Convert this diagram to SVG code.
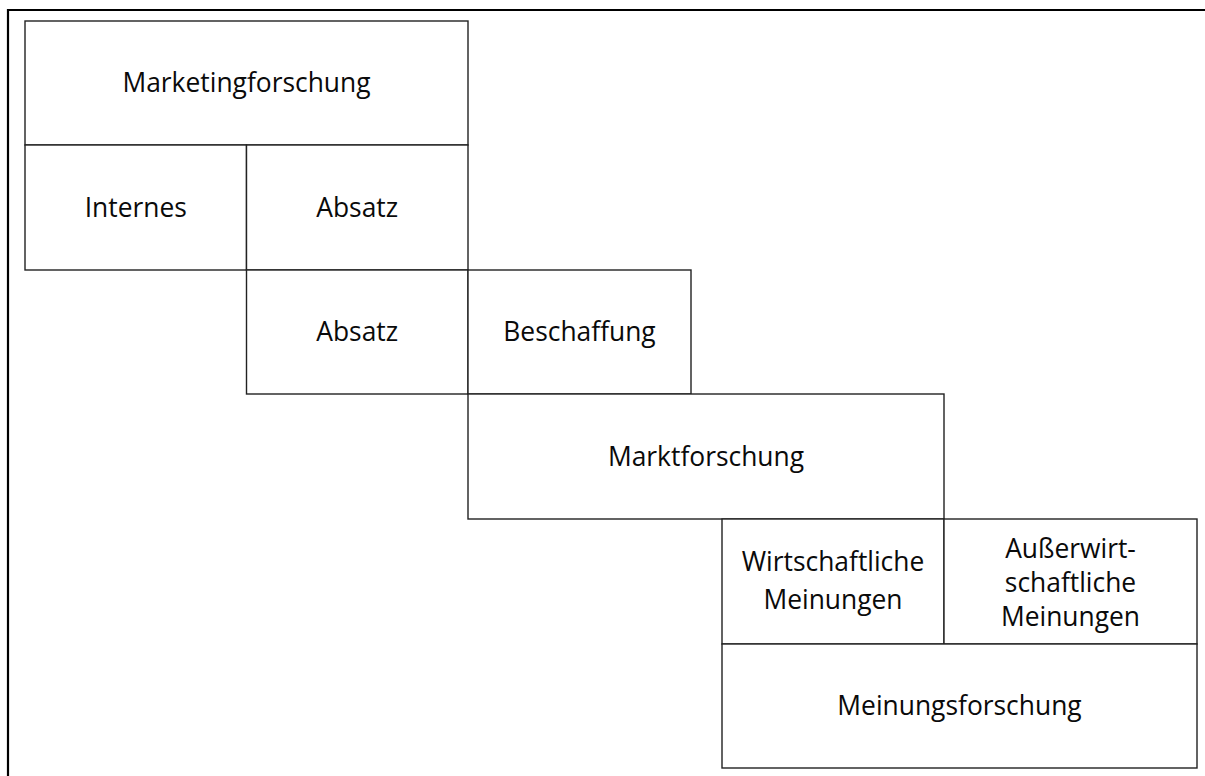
<svg xmlns="http://www.w3.org/2000/svg" width="1205" height="776" viewBox="0 0 1205 776">
  <style>
    .frame { fill: none; stroke: #000; stroke-width: 2.2; }
    .box { fill: #fff; stroke: #222; stroke-width: 1.4; }
    .lbl { font-family: "Open Sans", "Noto Sans", sans-serif; font-size: 26.4px; fill: #0a0a0a; text-anchor: middle; }
  </style>
  <rect width="1205" height="776" fill="#fff"/>
  <!-- outer frame (open to the right and bottom) -->
  <path class="frame" d="M8,776 V10 H1205"/>

  <g id="marketingforschung">
    <rect class="box" x="25" y="21" width="443" height="124"/>
    <text class="lbl" x="246.5" y="91.5">Marketingforschung</text>
  </g>
  <g id="internes">
    <rect class="box" x="25" y="145" width="221.5" height="125"/>
    <text class="lbl" x="135.8" y="216.5">Internes</text>
  </g>
  <g id="absatz-1">
    <rect class="box" x="246.5" y="145" width="221.5" height="125"/>
    <text class="lbl" x="357.2" y="216.5">Absatz</text>
  </g>
  <g id="absatz-2">
    <rect class="box" x="246.5" y="270" width="221.5" height="124"/>
    <text class="lbl" x="357.2" y="341">Absatz</text>
  </g>
  <g id="beschaffung">
    <rect class="box" x="468" y="270" width="223" height="124"/>
    <text class="lbl" x="579.5" y="341">Beschaffung</text>
  </g>
  <g id="marktforschung">
    <rect class="box" x="468" y="394" width="476" height="125"/>
    <text class="lbl" x="706" y="466">Marktforschung</text>
  </g>
  <g id="wirtschaftliche-meinungen">
    <rect class="box" x="722" y="519" width="222" height="125"/>
    <text class="lbl" x="833" y="571">Wirtschaftliche</text>
    <text class="lbl" x="833" y="609">Meinungen</text>
  </g>
  <g id="ausserwirtschaftliche-meinungen">
    <rect class="box" x="944" y="519" width="253" height="125"/>
    <text class="lbl" x="1070.5" y="558">Außerwirt-</text>
    <text class="lbl" x="1070.5" y="592">schaftliche</text>
    <text class="lbl" x="1070.5" y="626">Meinungen</text>
  </g>
  <g id="meinungsforschung">
    <rect class="box" x="722" y="644" width="475" height="124"/>
    <text class="lbl" x="959.5" y="715">Meinungsforschung</text>
  </g>
  <g id="connectors"></g>
</svg>
